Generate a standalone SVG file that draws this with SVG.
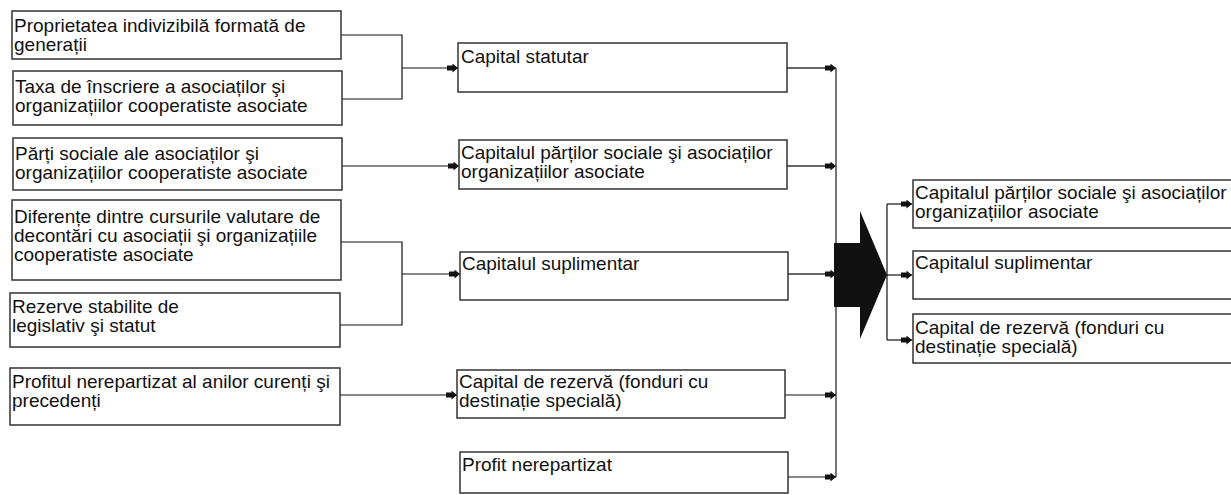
<svg xmlns="http://www.w3.org/2000/svg" width="1231" height="495" viewBox="0 0 1231 495">
<defs>
<style>
.box{fill:#fff;stroke:#333;stroke-width:1.5}
.t{font-family:"Liberation Sans",Arial,sans-serif;font-size:19px;fill:#111}
.c{fill:none;stroke:#111;stroke-width:1.2}
.g{fill:none;stroke:#666;stroke-width:1.8}
</style>
<marker id="ah" viewBox="0 0 10 8" refX="10" refY="4" markerWidth="11" markerHeight="9" markerUnits="userSpaceOnUse" orient="auto">
<path d="M0,1.8 L5,1.8 L5,0 L10,4 L5,8 L5,6.2 L0,6.2 Z" fill="#111"/>
</marker>
</defs>
<rect width="1231" height="495" fill="#fff"/>

<g id="connectors">
<path class="c" d="M341,35 H402 V99 H342"/>
<path class="c" d="M402,68 H458" marker-end="url(#ah)"/>
<path class="c" d="M342,166 H459" marker-end="url(#ah)"/>
<path class="c" d="M341,242 H402 V325 H340"/>
<path class="c" d="M402,274 H460" marker-end="url(#ah)"/>
<path class="c" d="M340,395 H457" marker-end="url(#ah)"/>
<path class="g" d="M836,68 V477"/>
<path class="g" d="M787,68 H836" marker-end="url(#ah)"/>
<path class="g" d="M787,166 H836" marker-end="url(#ah)"/>
<path class="g" d="M788,274 H836" marker-end="url(#ah)"/>
<path class="c" d="M785,395 H836" marker-end="url(#ah)"/>
<path class="c" d="M788,477 H836" marker-end="url(#ah)"/>
<polygon points="834,243 860,243 860,211 887,275 860,339 860,307 834,307" fill="#111"/>
<path class="c" d="M887,204 V340"/>
<path class="c" d="M887,204 H912" marker-end="url(#ah)"/>
<path class="c" d="M887,275 H912" marker-end="url(#ah)"/>
<path class="c" d="M887,340 H912" marker-end="url(#ah)"/>
</g>

<g id="n1"><rect class="box" x="12" y="11" width="329" height="48"/>
<text class="t"><tspan x="14" y="32">Proprietatea indivizibilă formată de</tspan><tspan x="14" y="51">generații</tspan></text></g>
<g id="n2"><rect class="box" x="13" y="71" width="329" height="54"/>
<text class="t"><tspan x="15" y="93">Taxa de înscriere a asociaților şi</tspan><tspan x="15" y="112">organizațiilor cooperatiste asociate</tspan></text></g>
<g id="n3"><rect class="box" x="13" y="138" width="329" height="52"/>
<text class="t"><tspan x="15" y="160">Părți sociale ale asociaților şi</tspan><tspan x="15" y="179">organizațiilor cooperatiste asociate</tspan></text></g>
<g id="n4"><rect class="box" x="12" y="200" width="329" height="80"/>
<text class="t"><tspan x="14" y="223">Diferențe dintre cursurile valutare de</tspan><tspan x="14" y="242">decontări cu asociații şi organizațiile</tspan><tspan x="14" y="261">cooperatiste asociate</tspan></text></g>
<g id="n5"><rect class="box" x="10" y="293" width="330" height="54"/>
<text class="t"><tspan x="12" y="313">Rezerve stabilite de</tspan><tspan x="12" y="332">legislativ şi statut</tspan></text></g>
<g id="n6"><rect class="box" x="10" y="368" width="330" height="57"/>
<text class="t"><tspan x="12" y="388">Profitul nerepartizat al anilor curenți şi</tspan><tspan x="12" y="407">precedenți</tspan></text></g>

<g id="m1"><rect class="box" x="458" y="43" width="329" height="49"/>
<text class="t" x="461" y="63">Capital statutar</text></g>
<g id="m2"><rect class="box" x="459" y="140" width="328" height="49"/>
<text class="t"><tspan x="461" y="159">Capitalul părților sociale şi asociaților</tspan><tspan x="461" y="178">organizațiilor asociate</tspan></text></g>
<g id="m3"><rect class="box" x="460" y="252" width="328" height="48"/>
<text class="t" x="462" y="270">Capitalul suplimentar</text></g>
<g id="m4"><rect class="box" x="457" y="370" width="328" height="48"/>
<text class="t"><tspan x="459" y="388">Capital de rezervă (fonduri cu</tspan><tspan x="459" y="407">destinație specială)</tspan></text></g>
<g id="m5"><rect class="box" x="460" y="452" width="328" height="41"/>
<text class="t" x="462" y="471">Profit nerepartizat</text></g>

<g id="r1"><rect class="box" x="913" y="180" width="330" height="48"/>
<text class="t"><tspan x="915" y="199">Capitalul părților sociale şi asociaților</tspan><tspan x="915" y="218">organizațiilor asociate</tspan></text></g>
<g id="r2"><rect class="box" x="913" y="251" width="330" height="48"/>
<text class="t" x="915" y="269">Capitalul suplimentar</text></g>
<g id="r3"><rect class="box" x="913" y="314" width="330" height="49"/>
<text class="t"><tspan x="915" y="334">Capital de rezervă (fonduri cu</tspan><tspan x="915" y="353">destinație specială)</tspan></text></g>
</svg>
